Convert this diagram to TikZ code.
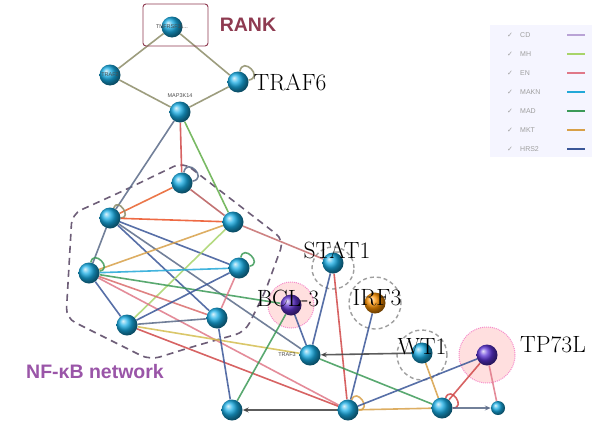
\documentclass[tikz,border=0pt]{standalone}
\usepackage{fontspec}
\newfontfamily\lsans{Liberation Sans}
\newfontfamily\dvs{DejaVu Sans}
\usetikzlibrary{arrows.meta,backgrounds}
\pgfdeclarelayer{bg}\pgfdeclarelayer{edgelayer}\pgfsetlayers{bg,edgelayer,main}
\definecolor{ncyan}{HTML}{18AEE6}
\definecolor{epurple}{HTML}{B9A3D6}
\definecolor{elgreen}{HTML}{A8D46A}
\definecolor{epink}{HTML}{E07888}
\definecolor{ecyan}{HTML}{22A8D8}
\definecolor{egreen}{HTML}{3C9A58}
\definecolor{eorange}{HTML}{D8A048}
\definecolor{eblue}{HTML}{3A5698}
\definecolor{eolive}{HTML}{8C8C68}
\definecolor{ered}{HTML}{D04848}
\definecolor{eslate}{HTML}{5A6A88}
\definecolor{ebrown}{HTML}{B85A5A}
\definecolor{eyellow}{HTML}{D4BE50}
\definecolor{rankc}{HTML}{8E3A50}
\definecolor{nfkbc}{HTML}{9A55A8}
\definecolor{nfdash}{HTML}{6E5E78}
\tikzset{
  every loop/.style={},
  ball/.style={circle, minimum size=21pt, inner sep=0pt, shading=ball, ball color=ncyan},
  smallball/.style={ball, minimum size=14pt},
  lab/.style={font=\fontsize{5.5}{6}\selectfont\lsans, text=black!70},
  big/.style={font=\fontsize{23.5}{25}\selectfont, text=black, inner sep=0pt},
  sanslab/.style={font=\lsans\bfseries\fontsize{19.5}{20}\selectfont, inner sep=0pt},
  ed/.style={line width=1.6pt, opacity=0.85},
  arr/.style={ed, -{Stealth[length=6pt,width=5pt]}},
  halo/.style={circle, fill=pink!50, draw=magenta!45, densely dotted, line width=1pt},
  ring/.style={circle, draw=gray!75, dashed, dash pattern=on 4pt off 3pt, line width=1.4pt},
  legtxt/.style={font=\fontsize{7}{8}\selectfont\lsans, text=gray!75, anchor=west, inner sep=0pt},
  legck/.style={font=\fontsize{7}{8}\selectfont\dvs, text=gray!75, inner sep=0pt},
}
\begin{document}
\begin{tikzpicture}[x=1pt,y=-1pt]
\useasboundingbox (0,0) rectangle (593,423);
\begin{pgfonlayer}{bg}
\fill[white] (0,0) rectangle (593,423);
\fill[blue!4] (490,25) rectangle (592,157);
\node[halo, minimum size=46pt] (haloM) at (291,305) {};
\node[halo, minimum size=56pt] (haloQ) at (487,355) {};
\node[ring, minimum size=52pt] (ringN) at (375,303) {};
\node[ring, minimum size=42pt] (ringL) at (333,268) {};
\node[ring, minimum size=50pt] (ringP) at (422,355) {};
\draw[dashed, dash pattern=on 7pt off 5pt, line width=1.6pt, draw=nfdash, rounded corners=10pt]
  (183,162) -- (284,240) -- (265,292) -- (245,332) -- (195,346) -- (150,360) -- (66,318) -- (72,214) -- (125,190) -- cycle;
\end{pgfonlayer}
% nodes
\node[ball, label={[lab]center:TNFRSF11...}] (A) at (172,27) {};
\node[ball, label={[lab]center:TRAF2}] (B) at (110,75) {};
\node[ball] (C) at (238,82) {};
\node[ball, label={[lab]90:MAP3K14}] (D) at (180,112) {};
\node[ball] (E) at (182,183) {};
\node[ball] (F) at (110,218) {};
\node[ball] (G) at (233,222) {};
\node[ball] (H) at (89,273) {};
\node[ball] (I) at (239,268) {};
\node[ball] (J) at (127,325) {};
\node[ball] (K) at (217,318) {};
\node[ball] (L) at (333,263) {};
\node[ball, ball color=blue!55!violet!80] (M) at (291,305) {};
\node[ball, ball color=orange!85!yellow] (N) at (375,303) {};
\node[ball, label={[lab]180:TRAF3}] (O) at (310,355) {};
\node[ball] (P) at (422,353) {};
\node[ball, ball color=blue!60!violet!80] (Q) at (487,355) {};
\node[ball] (R) at (232,410) {};
\node[ball] (S) at (348,410) {};
\node[ball] (T) at (442,408) {};
\node[smallball] (U) at (498,408) {};
% edges
\begin{pgfonlayer}{edgelayer}
\draw[ed, eolive] (A) -- (B);
\draw[ed, eolive] (A) -- (C);
\draw[ed, eolive] (B) -- (D);
\draw[ed, eolive] (C) -- (D);
\draw[ed, eolive] (C) to[loop, out=80, in=10, min distance=16pt] (C);
\draw[ed, ered] (D) -- (E);
\draw[ed, eslate] (D) -- (F);
\draw[ed, eolive!70!green] (D) -- (G);
\draw[ed, eslate] (E) to[loop, out=80, in=10, min distance=16pt] (E);
\draw[ed, eorange!60!red] (E) -- (F);
\draw[ed, ebrown] (E) -- (G);
\draw[ed, eolive] (F) to[loop, out=70, in=0, min distance=12pt] (F);
\draw[ed, eorange!50!red] (F) -- (G);
\draw[ed, eslate] (F) -- (H);
\draw[ed, eblue] (F) -- (I);
\draw[ed, eblue] (F) -- (K);
\draw[ed, eslate] (F) -- (O);
\draw[ed, eorange] (G) -- (H);
\draw[ed, elgreen] (G) -- (J);
\draw[ed, ebrown!80!pink] (G) -- (L);
\draw[ed, egreen] (H) to[loop, out=80, in=10, min distance=14pt] (H);
\draw[ed, ecyan] (H) -- (I);
\draw[ed, egreen] (H) -- (M);
\draw[ed, ered!80] (H) -- (K);
\draw[ed, epink] (H) -- (S);
\draw[ed, eblue] (H) -- (J);
\draw[ed, egreen] (I) to[loop, out=80, in=10, min distance=14pt] (I);
\draw[ed, eblue] (I) -- (J);
\draw[ed, epink] (I) -- (K);
\draw[ed, eslate] (J) -- (K);
\draw[ed, eyellow] (J) -- (O);
\draw[ed, ered] (J) -- (S);
\draw[ed, eblue] (K) -- (R);
\draw[ed, egreen] (M) -- (R);
\draw[ed, eblue] (M) -- (O);
\draw[ed, eblue] (L) -- (O);
\draw[ed, ered] (L) -- (S);
\draw[ed, eblue] (N) -- (S);
\draw[arr, black!75] (P) -- (O);
\draw[ed, egreen] (O) -- (T);
\draw[arr, black!75] (S) -- (R);
\draw[ed, eorange] (S) to[loop, out=70, in=0, min distance=14pt] (S);
\draw[ed, eorange] (S) -- (T);
\draw[ed, eblue] (S) -- (Q);
\draw[ed, ered] (T) to[loop, out=70, in=0, min distance=14pt] (T);
\draw[arr, eslate] (T) -- (U);
\draw[ed, ered] (Q) -- (T);
\draw[ed, epink] (Q) -- (U);
\draw[ed, eorange] (P) -- (T);
\end{pgfonlayer}
% big labels
\node[big] (tTRAF6) at (290,82) {TRAF6};
\node[big] (tSTAT1) at (337,250) {STAT1};
\node[big] (tBCL) at (288,298) {BCL-3};
\node[big] (tIRF3) at (377,298) {IRF3};
\node[big] (tWT1) at (422,347) {WT1};
\node[big] (tTP73L) at (553,345) {TP73L};
\node[draw=rankc, rounded corners=3pt, line width=0.9pt, minimum width=65pt, minimum height=42pt] (rankbox) at (175.5,25) {};
\node[sanslab, text=rankc] (tRANK) at (248,25) {RANK};
\node[sanslab, text=nfkbc] (tNF) at (95,372) {NF-κB network};
% legend
\foreach \y/\t/\c [count=\i] in {35/CD/epurple, 54/MH/elgreen, 73/EN/epink, 92/MAKN/ecyan, 111/MAD/egreen, 130/MKT/eorange, 149/HRS2/eblue}{
  \node[legck] (ck\i) at (510,\y) {✓};
  \node[legtxt] (lt\i) at (520,\y) {\t};
  \draw[line width=1.6pt, \c] (567,\y) -- (585,\y);
}
\end{tikzpicture}
\end{document}
